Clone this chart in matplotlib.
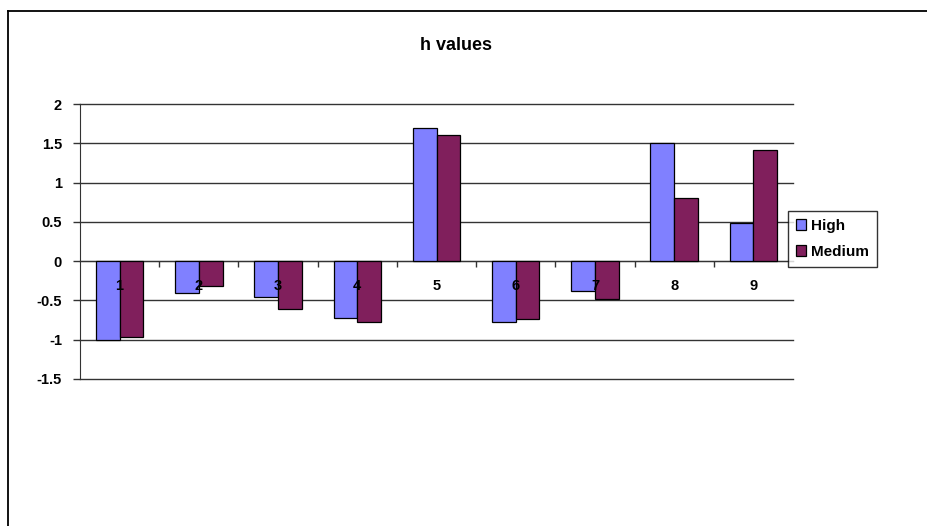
import numpy as np
import matplotlib
matplotlib.use('Agg')
from matplotlib import pyplot as plt
from matplotlib.lines import Line2D

categories = ['1', '2', '3', '4', '5', '6', '7', '8', '9']
high = [-1.00, -0.40, -0.46, -0.72, 1.70, -0.77, -0.38, 1.50, 0.49]
medium = [-0.97, -0.32, -0.61, -0.77, 1.60, -0.74, -0.48, 0.81, 1.42]
yticks = [-1.5, -1, -0.5, 0, 0.5, 1, 1.5, 2]
ytick_labels = ['-1.5', '-1', '-0.5', '0', '0.5', '1', '1.5', '2']

plt.rcParams['font.family'] = ['Liberation Sans', 'DejaVu Sans']

fig = plt.figure(figsize=(9.27, 5.26), dpi=100)
ax = fig.add_axes([80 / 927, 1 - 379 / 526, 713 / 927, 275 / 526])

# outer chart frame (cut off at right and bottom)
fig.add_artist(Line2D([8 / 927, 8 / 927], [0, 1 - 11 / 526], color='black', lw=1.3,
                      transform=fig.transFigure))
fig.add_artist(Line2D([8 / 927, 1], [1 - 11 / 526, 1 - 11 / 526], color='black', lw=1.3,
                      transform=fig.transFigure))

x = np.arange(len(categories))
w = 0.3
ax.bar(x - w / 2, high, w, color='#8080ff', edgecolor='black', linewidth=0.9,
       label='High', zorder=3)
ax.bar(x + w / 2, medium, w, color='#801f5c', edgecolor='black', linewidth=0.9,
       label='Medium', zorder=3)

ax.set_xlim(-0.5, len(categories) - 0.5)
ax.set_ylim(-1.5, 2)
ax.set_yticks(yticks)
ax.set_yticklabels(ytick_labels, fontsize=10.5, fontweight='bold')
ax.yaxis.grid(True, color='#333333', linewidth=1.0)
for gl in ax.get_ygridlines():
    gl.set_clip_on(False)
ax.set_axisbelow(True)
ax.tick_params(axis='y', length=5, width=1, color='#333333', pad=8)

for s in ['top', 'right']:
    ax.spines[s].set_visible(False)
ax.spines['left'].set_color('#333333')
ax.spines['bottom'].set_position(('data', 0))
ax.spines['bottom'].set_color('#333333')
ax.set_xticks(x)
ax.set_xticklabels([])
ax.tick_params(axis='x', which='major', length=0)
ax.set_xticks(np.arange(0.5, len(categories) - 0.5, 1), minor=True)
ax.tick_params(axis='x', which='minor', length=4, width=1, color='#333333', direction='out')

for xi, lab in zip(x, categories):
    ax.annotate(lab, (xi, 0), xytext=(0, -18), textcoords='offset points',
                ha='center', va='center', fontsize=10.5, fontweight='bold', zorder=5)

fig.text(456 / 927, 1 - 46 / 526, 'h values', ha='center', va='center',
         fontsize=13, fontweight='bold')

leg = ax.legend(loc='center left', bbox_to_anchor=(788 / 927, 1 - 239 / 526),
                bbox_transform=fig.transFigure, frameon=True, fancybox=False,
                prop={'size': 11, 'weight': 'bold'}, handlelength=0.7, handleheight=0.7,
                handletextpad=0.3, borderpad=0.5, labelspacing=0.8, borderaxespad=0)
leg.get_frame().set_edgecolor('black')
leg.get_frame().set_linewidth(1.0)

fig.savefig('out.png', dpi=100)
